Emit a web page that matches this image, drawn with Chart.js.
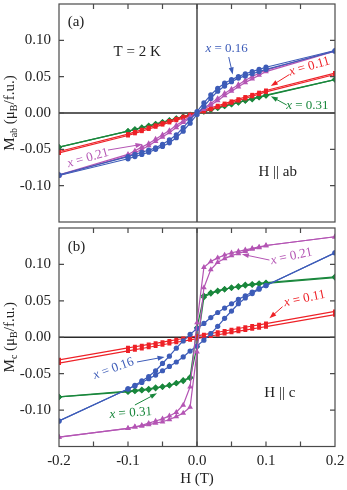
<!DOCTYPE html>
<html>
<head>
<meta charset="utf-8">
<script src="https://cdn.jsdelivr.net/npm/chart.js@4.4.0/dist/chart.umd.min.js"></script>
<style>
  html, body { margin: 0; padding: 0; background: #fff; }
  #wrap { position: relative; width: 347px; height: 490px; }
  canvas { position: absolute; left: 0; }
  #panelA { top: 0; }
  #panelB { top: 224px; }
</style>
</head>
<body>
<div id="wrap">
  <canvas id="panelB" width="347" height="266"></canvas>
  <canvas id="panelA" width="347" height="226"></canvas>
</div>
<script>
// field sweeps (T)
const fieldUp = [-0.2, -0.1, -0.09, -0.08, -0.07, -0.06, -0.05, -0.04, -0.03, -0.02, -0.01, 0,
  0.01, 0.02, 0.03, 0.04, 0.05, 0.06, 0.07, 0.08, 0.09, 0.1, 0.2];
const fieldDown = [0.2, 0.1, 0.09, 0.08, 0.07, 0.06, 0.05, 0.04, 0.03, 0.02, 0.01, 0,
  -0.01, -0.02, -0.03, -0.04, -0.05, -0.06, -0.07, -0.08, -0.09, -0.1, -0.2];

const xTicks = [-0.2, -0.1, 0, 0.1, 0.2];
const xMinorTicks = [-0.15, -0.1, -0.05, 0, 0.05, 0.1, 0.15];
const yTicks = [-0.10, -0.05, 0, 0.05, 0.10];

// (a) H || ab
const ab16Up = [-0.086, -0.063, -0.060, -0.057, -0.054, -0.050, -0.046, -0.041, -0.034, -0.025, -0.014, -0.002,
  0.009, 0.020, 0.030, 0.037, 0.043, 0.048, 0.051, 0.054, 0.057, 0.060, 0.085];
const ab16Down = [0.086, 0.063, 0.060, 0.057, 0.054, 0.050, 0.046, 0.041, 0.034, 0.025, 0.014, 0.002,
  -0.009, -0.020, -0.030, -0.037, -0.043, -0.048, -0.051, -0.054, -0.057, -0.060, -0.085];
const ab21Up = [-0.086, -0.059, -0.055, -0.050, -0.045, -0.039, -0.033, -0.027, -0.020, -0.013, -0.007, -0.001,
  0.005, 0.011, 0.017, 0.024, 0.030, 0.036, 0.042, 0.047, 0.052, 0.057, 0.085];
const ab21Down = [0.086, 0.059, 0.055, 0.050, 0.045, 0.039, 0.033, 0.027, 0.020, 0.013, 0.007, 0.001,
  -0.005, -0.011, -0.017, -0.024, -0.030, -0.036, -0.042, -0.047, -0.052, -0.057, -0.085];
const ab11Up = [-0.055, -0.031, -0.028, -0.025, -0.022, -0.019, -0.016, -0.013, -0.010, -0.007, -0.004, -0.001,
  0.002, 0.005, 0.008, 0.011, 0.014, 0.017, 0.020, 0.023, 0.026, 0.029, 0.053];
const ab11Down = [0.055, 0.031, 0.028, 0.025, 0.022, 0.019, 0.016, 0.013, 0.010, 0.007, 0.004, 0.001,
  -0.002, -0.005, -0.008, -0.011, -0.014, -0.017, -0.020, -0.023, -0.026, -0.029, -0.053];
const ab31Up = [-0.047, -0.025, -0.0228, -0.0205, -0.018, -0.0155, -0.013, -0.0105, -0.008, -0.0055, -0.003, -0.0005,
  0.002, 0.0045, 0.007, 0.0095, 0.012, 0.0145, 0.017, 0.019, 0.0215, 0.024, 0.046];
const ab31Down = [0.046, 0.0245, 0.0222, 0.0198, 0.0173, 0.0148, 0.0123, 0.0098, 0.0073, 0.0048, 0.0023, 0.0,
  -0.0025, -0.005, -0.0075, -0.01, -0.0125, -0.015, -0.0175, -0.02, -0.0225, -0.025, -0.047];

// (b) H || c
const c16Up = [-0.115, -0.071, -0.067, -0.062, -0.057, -0.052, -0.046, -0.040, -0.034, -0.027, -0.019, -0.012,
  -0.004, 0.005, 0.015, 0.026, 0.036, 0.046, 0.054, 0.060, 0.066, 0.071, 0.116];
const c16Down = [0.116, 0.071, 0.067, 0.062, 0.057, 0.052, 0.046, 0.040, 0.034, 0.027, 0.019, 0.012,
  0.004, -0.005, -0.015, -0.026, -0.036, -0.046, -0.054, -0.060, -0.066, -0.071, -0.115];
const c21Up = [-0.137, -0.125, -0.123, -0.122, -0.120, -0.118, -0.116, -0.113, -0.109, -0.104, -0.096, -0.020,
  0.068, 0.093, 0.103, 0.108, 0.112, 0.115, 0.118, 0.121, 0.123, 0.126, 0.138];
const c21Down = [0.138, 0.126, 0.124, 0.122, 0.120, 0.118, 0.116, 0.113, 0.109, 0.104, 0.096, 0.020,
  -0.068, -0.093, -0.103, -0.108, -0.112, -0.115, -0.118, -0.121, -0.123, -0.125, -0.137];
const c11Up = [-0.0355, -0.0188, -0.0171, -0.0154, -0.0137, -0.012, -0.0103, -0.0086, -0.0069, -0.0052, -0.0035, -0.0018,
  0.0, 0.0017, 0.0034, 0.0051, 0.0067, 0.0083, 0.0099, 0.0115, 0.013, 0.0145, 0.031];
const c11Down = [0.0355, 0.0188, 0.0171, 0.0154, 0.0137, 0.012, 0.0103, 0.0086, 0.0069, 0.0052, 0.0035, 0.0018,
  0.0, -0.0017, -0.0034, -0.0051, -0.0067, -0.0083, -0.0099, -0.0115, -0.013, -0.0145, -0.031];
const c31Up = [-0.082, -0.075, -0.074, -0.073, -0.072, -0.070, -0.068, -0.066, -0.063, -0.060, -0.056, -0.013,
  0.055, 0.060, 0.063, 0.066, 0.068, 0.069, 0.071, 0.072, 0.073, 0.074, 0.082];
const c31Down = [0.083, 0.075, 0.074, 0.073, 0.072, 0.070, 0.068, 0.066, 0.064, 0.061, 0.057, 0.013,
  -0.055, -0.059, -0.063, -0.066, -0.068, -0.069, -0.071, -0.072, -0.073, -0.074, -0.082];

const blue = "#3d5cb8";
const pink = "#b455b4";
const red = "#ee2127";
const green = "#19873c";
const serif = '"Liberation Serif", "Times New Roman", serif';

function points(field, values) {
  return values.map((v, i) => ({ x: field[i], y: v }));
}

function loop(up, down, color, style, radius) {
  const base = {
    borderColor: color, backgroundColor: color, borderWidth: 1.2,
    pointStyle: style, pointRadius: radius, pointBorderWidth: 0, tension: 0
  };
  return [
    Object.assign({ data: points(fieldUp, up) }, base),
    Object.assign({ data: points(fieldDown, down) }, base)
  ];
}

// notes are placed in data units (H, M)
const notesA = [
  { text: "(a)", h: -0.1874, m: 0.1247, align: "left", size: 15, color: "#222" },
  { text: "T = 2 K", h: -0.0867, m: 0.0842, align: "center", size: 15, color: "#222" },
  { text: "H || ab", h: 0.117, m: -0.0806, align: "center", size: 15, color: "#222" },
  { label: "0.16", h: 0.043, m: 0.088, rot: 0, color: blue, a: [0.046, 0.077, 0.0518, 0.053] },
  { label: "0.11", h: 0.163, m: 0.064, rot: -16, color: red, a: [0.134, 0.053, 0.107, 0.037] },
  { label: "0.31", h: 0.160, m: 0.0099, rot: 0, color: green, a: [0.130, 0.011, 0.107, 0.023] },
  { label: "0.21", h: -0.158, m: -0.062, rot: -16, color: pink, a: [-0.129, -0.051, -0.079, -0.043] }
];
const notesB = [
  { text: "(b)", h: -0.1874, m: 0.1243, align: "left", size: 15, color: "#222" },
  { text: "H || c", h: 0.120, m: -0.077, align: "center", size: 15, color: "#222" },
  { label: "0.21", h: 0.137, m: 0.111, rot: -12, color: pink, a: [0.105, 0.106, 0.065, 0.114] },
  { label: "0.11", h: 0.156, m: 0.053, rot: -12, color: red, a: [0.124, 0.042, 0.105, 0.026] },
  { label: "0.16", h: -0.121, m: -0.043, rot: -20, color: blue, a: [-0.087, -0.034, -0.047, -0.027] },
  { label: "0.31", h: -0.096, m: -0.104, rot: -4, color: green, a: [-0.090, -0.093, -0.058, -0.077] }
];

function drawArrow(ctx, x1, y1, x2, y2, color) {
  const ang = Math.atan2(y2 - y1, x2 - x1);
  ctx.strokeStyle = color;
  ctx.fillStyle = color;
  ctx.lineWidth = 1;
  ctx.beginPath();
  ctx.moveTo(x1, y1);
  ctx.lineTo(x2 - 4 * Math.cos(ang), y2 - 4 * Math.sin(ang));
  ctx.stroke();
  ctx.beginPath();
  ctx.moveTo(x2, y2);
  ctx.lineTo(x2 - 7 * Math.cos(ang) + 2.5 * Math.sin(ang), y2 - 7 * Math.sin(ang) - 2.5 * Math.cos(ang));
  ctx.lineTo(x2 - 7 * Math.cos(ang) - 2.5 * Math.sin(ang), y2 - 7 * Math.sin(ang) + 2.5 * Math.cos(ang));
  ctx.closePath();
  ctx.fill();
}

function drawNote(ctx, n, xs, ys) {
  const px = xs.getPixelForValue(n.h);
  const py = ys.getPixelForValue(n.m);
  ctx.save();
  ctx.textBaseline = "middle";
  ctx.fillStyle = n.color;
  if (n.text) {
    ctx.font = n.size + "px " + serif;
    ctx.textAlign = n.align;
    ctx.fillText(n.text, px, py);
    ctx.restore();
    return;
  }
  ctx.translate(px, py);
  ctx.rotate(n.rot * Math.PI / 180);
  const it = "italic 13px " + serif;
  const rm = "13px " + serif;
  ctx.font = it;
  const w1 = ctx.measureText("x").width;
  ctx.font = rm;
  const rest = " = " + n.label;
  const w2 = ctx.measureText(rest).width;
  const sx = -(w1 + w2) / 2;
  ctx.textAlign = "left";
  ctx.font = it;
  ctx.fillText("x", sx, 0);
  ctx.font = rm;
  ctx.fillText(rest, sx + w1, 0);
  ctx.restore();
  ctx.save();
  drawArrow(ctx, xs.getPixelForValue(n.a[0]), ys.getPixelForValue(n.a[1]),
    xs.getPixelForValue(n.a[2]), ys.getPixelForValue(n.a[3]), n.color);
  ctx.restore();
}

function drawYTitle(ctx, area, sub) {
  const parts = [
    ["M", 15, 0], [sub, 10, 4], [" (\u03bc", 15, 0], ["B", 10, 4], ["/f.u.)", 15, 0]
  ];
  ctx.save();
  ctx.translate(10, (area.top + area.bottom) / 2);
  ctx.rotate(-Math.PI / 2);
  ctx.fillStyle = "#222";
  ctx.textBaseline = "middle";
  ctx.textAlign = "left";
  let total = 0;
  parts.forEach(p => { ctx.font = p[1] + "px " + serif; total += ctx.measureText(p[0]).width; });
  let x = -total / 2;
  parts.forEach(p => {
    ctx.font = p[1] + "px " + serif;
    ctx.fillText(p[0], x, p[2]);
    x += ctx.measureText(p[0]).width;
  });
  ctx.restore();
}

function framePlugin(notes, sub, bottomTicks, xTitle) {
  return {
    id: "frame",
    beforeDatasetsDraw(chart) {
      const { ctx, chartArea: a, scales: { x, y } } = chart;
      const x0 = x.getPixelForValue(0);
      const y0 = y.getPixelForValue(0);
      ctx.save();
      ctx.strokeStyle = "#2a2a2a";
      ctx.lineWidth = 1.3;
      ctx.beginPath();
      ctx.moveTo(x0, a.top);
      ctx.lineTo(x0, a.bottom);
      ctx.moveTo(a.left, y0);
      ctx.lineTo(a.right, y0);
      ctx.stroke();
      ctx.restore();
    },
    afterDatasetsDraw(chart) {
      const { ctx, chartArea: a, scales: { x, y } } = chart;
      ctx.save();
      ctx.strokeStyle = "#4a4a4a";
      ctx.lineWidth = 1.2;
      ctx.strokeRect(a.left, a.top, a.right - a.left, a.bottom - a.top);
      ctx.beginPath();
      xMinorTicks.forEach(v => {
        const px = x.getPixelForValue(v);
        ctx.moveTo(px, a.top);
        ctx.lineTo(px, a.top + 5);
        if (bottomTicks) {
          ctx.moveTo(px, a.bottom);
          ctx.lineTo(px, a.bottom - 5);
        }
      });
      yTicks.forEach(v => {
        const py = y.getPixelForValue(v);
        ctx.moveTo(a.left, py);
        ctx.lineTo(a.left + 5, py);
        ctx.moveTo(a.right, py);
        ctx.lineTo(a.right - 5, py);
      });
      ctx.stroke();
      ctx.restore();
      notes.forEach(n => drawNote(ctx, n, x, y));
      drawYTitle(ctx, a, sub);
      if (xTitle) {
        ctx.save();
        ctx.fillStyle = "#222";
        ctx.font = "15px " + serif;
        ctx.textAlign = "center";
        ctx.textBaseline = "middle";
        ctx.fillText(xTitle, x.getPixelForValue(0), a.bottom + 33);
        ctx.restore();
      }
    }
  };
}

function makePanel(id, datasets, notes, sub, withXAxis) {
  return new Chart(document.getElementById(id), {
    type: "line",
    data: { datasets: datasets },
    options: {
      responsive: false,
      animation: false,
      devicePixelRatio: 1,
      layout: { padding: withXAxis ? { left: 0, top: 0.5, right: 12, bottom: 0 } : { left: 0, top: 3, right: 12, bottom: 1 } },
      plugins: { legend: { display: false }, tooltip: { enabled: false } },
      scales: {
        x: {
          type: "linear", min: -0.2, max: 0.2, display: withXAxis,
          afterBuildTicks: s => { s.ticks = xTicks.map(v => ({ value: v })); },
          afterFit: s => {
            s.height = withXAxis ? 43.5 : 0;
            s.paddingLeft = 0;
            s.paddingRight = 0;
          },
          grid: { display: false, drawTicks: false },
          border: { display: false },
          ticks: { autoSkip: false, maxRotation: 0, padding: 6, color: "#222",
            font: { family: serif, size: 15 }, callback: v => v.toFixed(1) }
        },
        y: {
          type: "linear", min: -0.15, max: 0.15,
          afterBuildTicks: s => { s.ticks = yTicks.map(v => ({ value: v })); },
          afterFit: s => {
            s.width = 59;
            s.paddingTop = 0;
            s.paddingBottom = 0;
          },
          grid: { display: false, drawTicks: false },
          border: { display: false },
          ticks: { padding: 8, color: "#222", font: { family: serif, size: 15 },
            callback: v => v.toFixed(2) }
        }
      }
    },
    plugins: [framePlugin(notes, sub, withXAxis, withXAxis ? "H (T)" : null)]
  });
}

const dataA = [].concat(
  loop(ab16Up, ab16Down, blue, "circle", 2.6),
  loop(ab21Up, ab21Down, pink, "triangle", 3.3),
  loop(ab11Up, ab11Down, red, "rect", 2.8),
  loop(ab31Up, ab31Down, green, "rectRot", 3.2)
);
const dataB = [].concat(
  loop(c21Up, c21Down, pink, "triangle", 3.3),
  loop(c16Up, c16Down, blue, "circle", 2.6),
  loop(c31Up, c31Down, green, "rectRot", 3.2),
  loop(c11Up, c11Down, red, "rect", 2.8)
);

const chartA = makePanel("panelA", dataA, notesA, "ab", false);
const chartB = makePanel("panelB", dataB, notesB, "c", true);
</script>
</body>
</html>
